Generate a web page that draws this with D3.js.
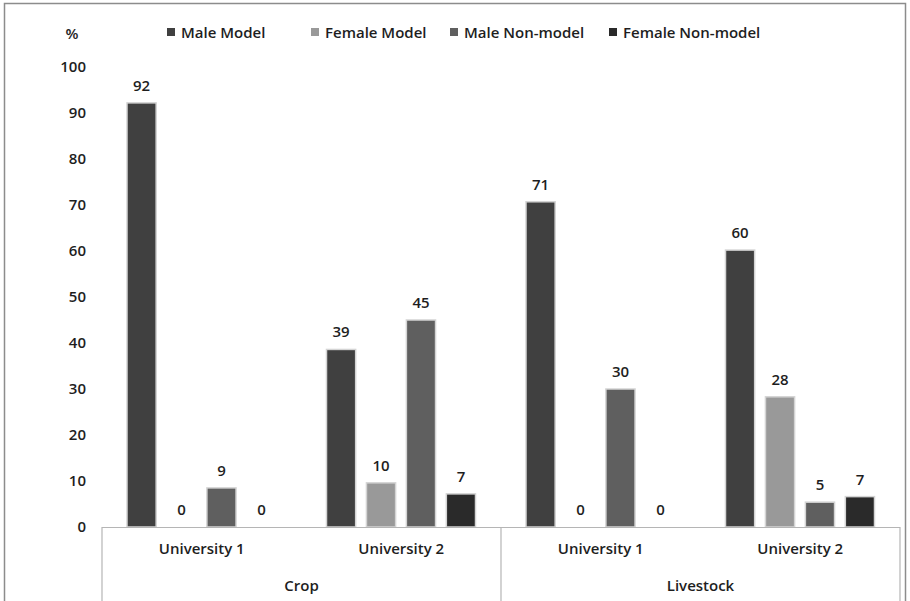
<!DOCTYPE html>
<html>
<head>
<meta charset="utf-8">
<script src="https://cdn.jsdelivr.net/npm/d3@7"></script>
<style>
  body { margin: 0; background: #fff; }
  svg text { font-family: "Open Sans", "Noto Sans", sans-serif; fill: #1e1e1e; font-weight: 600; }
</style>
</head>
<body>
<div id="chart"></div>
<script>
// categories and values
const sectors = ['Crop', 'Livestock'];
const universities = ['University 1', 'University 2'];
const seriesNames = ['Male Model', 'Female Model', 'Male Non-model', 'Female Non-model'];
const seriesColors = ['#404040', '#999999', '#5f5f5f', '#2a2a2a'];
const cropU1 = [92.2, 0, 8.5, 0];
const cropU2 = [38.6, 9.6, 45, 7.2];
const livestockU1 = [70.7, 0, 30, 0];
const livestockU2 = [60.2, 28.3, 5.4, 6.6];
const yTicks = [0, 10, 20, 30, 40, 50, 60, 70, 80, 90, 100];

const groups = [
  { sector: 'Crop', uni: 'University 1', values: cropU1 },
  { sector: 'Crop', uni: 'University 2', values: cropU2 },
  { sector: 'Livestock', uni: 'University 1', values: livestockU1 },
  { sector: 'Livestock', uni: 'University 2', values: livestockU2 }
];

const width = 910, height = 601;
const plotLeft = 102, plotRight = 900, plotTop = 67, base = 527;

const svg = d3.select('#chart').append('svg')
  .attr('width', width).attr('height', height);

// outer frame
svg.append('rect').attr('x', 4.5).attr('y', 3.5).attr('width', 901).attr('height', 640)
  .attr('fill', 'none').attr('stroke', '#8c8c8c').attr('stroke-width', 1.5);

const y = d3.scaleLinear().domain([0, 100]).range([base, plotTop]);
const xSector = d3.scaleBand().domain(sectors).range([plotLeft, plotRight]);
const xGroup = d3.scaleBand().domain(d3.range(groups.length)).range([plotLeft, plotRight]);
const xSeries = d3.scaleBand().domain(seriesNames).range([25, 174]).paddingInner(0.27);

// y axis labels (no line)
const yAxis = svg.append('g').attr('transform', 'translate(86,0)')
  .call(d3.axisLeft(y).tickValues(yTicks).tickSize(0).tickPadding(0));
yAxis.select('.domain').remove();
yAxis.selectAll('text').attr('font-size', 15).attr('font-weight', 600)
  .attr('font-family', '"Open Sans", sans-serif').attr('fill', '#1e1e1e');

svg.append('text').attr('x', 72).attr('y', 39).attr('text-anchor', 'middle')
  .attr('font-size', 15).attr('font-weight', 700).text('%');

// bars
const g = svg.selectAll('.grp').data(groups).enter().append('g')
  .attr('transform', (d, i) => `translate(${xGroup(i)},0)`);

g.selectAll('rect').data(d => d.values.map((v, k) => ({ v, k }))).enter().append('rect')
  .attr('x', d => xSeries(seriesNames[d.k]))
  .attr('y', d => y(d.v))
  .attr('width', xSeries.bandwidth())
  .attr('height', d => base - y(d.v))
  .attr('fill', d => seriesColors[d.k])
  .attr('stroke', d => d.v > 0 ? '#d4d4d4' : 'none')
  .attr('stroke-width', 1.5);

g.selectAll('.lbl').data(d => d.values.map((v, k) => ({ v, k }))).enter().append('text')
  .attr('x', d => xSeries(seriesNames[d.k]) + xSeries.bandwidth() / 2)
  .attr('y', d => y(d.v) - 12)
  .attr('text-anchor', 'middle')
  .attr('font-size', 15)
  .text(d => d.v.toFixed(0));

// category axis box
const axisColor = '#b5b5b5';
svg.append('line').attr('x1', plotLeft).attr('x2', plotRight).attr('y1', base + 0.5).attr('y2', base + 0.5)
  .attr('stroke', axisColor).attr('stroke-width', 1.2);
[plotLeft, xSector('Livestock'), plotRight].forEach(xv => {
  svg.append('line').attr('x1', xv).attr('x2', xv).attr('y1', base).attr('y2', height)
    .attr('stroke', axisColor).attr('stroke-width', 1.2);
});

svg.selectAll('.uni').data(groups).enter().append('text')
  .attr('x', (d, i) => xGroup(i) + xGroup.bandwidth() / 2)
  .attr('y', 554).attr('text-anchor', 'middle').attr('font-size', 15)
  .text(d => d.uni);

svg.selectAll('.sec').data(sectors).enter().append('text')
  .attr('x', d => xSector(d) + xSector.bandwidth() / 2)
  .attr('y', 591).attr('text-anchor', 'middle').attr('font-size', 15)
  .text(d => d);

// legend
const legendX = [167, 311, 450, 609];
const legend = svg.selectAll('.leg').data(seriesNames).enter().append('g')
  .attr('transform', (d, i) => `translate(${legendX[i]},33)`);
legend.append('rect').attr('x', 0).attr('y', -5).attr('width', 8).attr('height', 8)
  .attr('fill', (d, i) => seriesColors[i]);
legend.append('text').attr('x', 14).attr('y', 5).attr('font-size', 15).text(d => d);
</script>
</body>
</html>
